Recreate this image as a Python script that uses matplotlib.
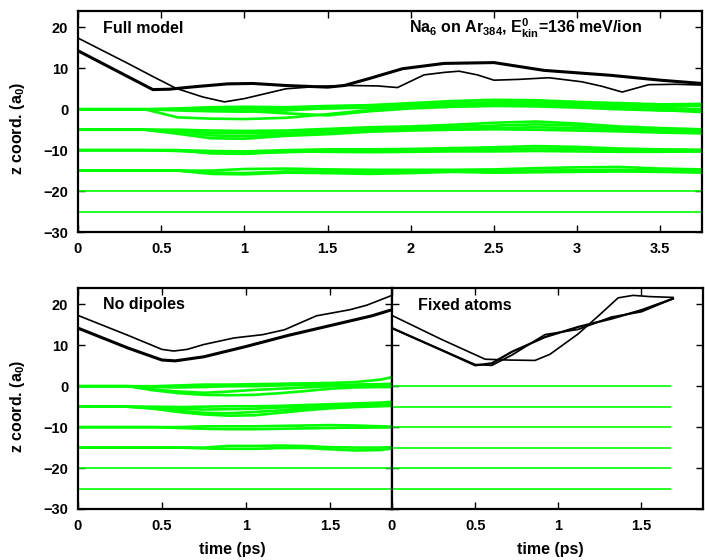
import matplotlib
matplotlib.use("Agg")
import matplotlib.pyplot as plt

plt.rcParams['font.family'] = ['Liberation Sans', 'DejaVu Sans']
plt.rcParams['font.weight'] = 'bold'
plt.rcParams['mathtext.fontset'] = 'custom'
plt.rcParams['mathtext.rm'] = 'Liberation Sans:bold'
plt.rcParams['mathtext.bf'] = 'Liberation Sans:bold'
plt.rcParams['mathtext.it'] = 'Liberation Sans:bold'
plt.rcParams['mathtext.default'] = 'bf'

NA_COLOR = 'black'
AR_COLOR = '#00ff00'
TICK_SIZE = 10.5
LABEL_SIZE = 11.5

# ---------------- Full model ----------------
# Na ions: apex ion (thin) and the ring ions (thick)
full_apex_t = [0, 0.3, 0.45, 0.59, 0.75, 0.88, 1.0, 1.25, 1.45, 1.63, 1.8, 1.92,
               2.08, 2.2, 2.29, 2.4, 2.5, 2.65, 2.83, 3.03, 3.15, 3.27, 3.43, 3.6, 3.75]
full_apex_z = [17.4, 11.2, 8.0, 5.1, 3.0, 1.8, 2.6, 5.0, 5.6, 5.8, 5.7, 5.3,
               8.4, 9.0, 9.3, 8.4, 7.1, 7.3, 7.7, 6.7, 5.6, 4.2, 6.0, 6.1, 5.9]
full_ring_t = [0, 0.45, 0.55, 0.7, 0.9, 1.05, 1.25, 1.5, 1.6, 1.75, 1.95, 2.2,
               2.5, 2.8, 3.2, 3.5, 3.75]
full_ring_z = [14.3, 4.8, 4.9, 5.5, 6.2, 6.3, 5.8, 5.4, 5.8, 7.5, 9.9, 11.2,
               11.4, 9.5, 8.3, 7.1, 6.3]

# Ar atoms, grouped by layer
full_ar_t = [0, 0.4, 0.6, 0.8, 1.0, 1.25, 1.5, 1.75, 2.0, 2.25, 2.5, 2.75,
             3.0, 3.25, 3.5, 3.75]
full_ar_layer0 = [
    [0, 0, 0.2, 0.5, 0.6, 0.5, 0.8, 1.0, 1.5, 2.0, 2.3, 2.2, 1.8, 1.5, 1.2, 1.3],
    [0, 0, 0, 0.2, 0.2, 0.0, 0.2, 0.5, 1.0, 1.5, 1.7, 1.7, 1.4, 1.0, 0.8, 0.8],
    [0, 0, -0.3, -0.5, -0.6, -0.3, 0.3, 0.3, 0.8, 1.2, 1.3, 1.2, 1.0, 0.6, 0.3, 0.0],
    [0, 0, -2.0, -2.3, -2.4, -2.1, -1.2, -0.2, 0.4, 0.8, 1.0, 1.0, 0.6, 0.2, -0.2, -0.7],
    [0, 0, -0.1, 0.0, -0.4, -1.0, -1.5, -0.5, 0.2, 0.6, 0.8, 0.7, 0.4, 0.0, -0.3, -0.3],
]
full_ar_layer1 = [
    [-5, -5, -5.0, -5.2, -5.3, -5.2, -4.8, -4.4, -4.2, -3.8, -3.3, -3.0, -3.5, -4.2, -4.6, -4.9],
    [-5, -5, -5.3, -5.8, -5.9, -5.8, -5.2, -4.8, -4.6, -4.3, -4.0, -3.7, -4.0, -4.5, -5.0, -5.2],
    [-5, -5, -5.6, -6.4, -6.6, -6.2, -5.8, -5.1, -5.0, -4.8, -4.6, -4.4, -4.6, -5.0, -5.4, -5.6],
    [-5, -5, -6.0, -7.1, -7.2, -6.5, -6.1, -5.5, -5.2, -5.0, -4.9, -5.0, -5.2, -5.4, -5.7, -5.9],
]
full_ar_layer2 = [
    [-10, -10, -10.0, -10.2, -10.3, -10.0, -9.8, -9.8, -9.7, -9.5, -9.3, -9.0, -9.2, -9.6, -9.8, -9.9],
    [-10, -10, -10.2, -10.6, -10.8, -10.5, -10.2, -10.2, -10.1, -10.0, -9.8, -9.6, -9.7, -10.0, -10.2, -10.3],
    [-10, -10, -10.0, -10.8, -10.9, -10.3, -10.4, -10.5, -10.4, -10.3, -10.3, -10.2, -10.3, -10.4, -10.4, -10.3],
]
full_ar_layer3 = [
    [-15, -15, -15, -15.0, -14.6, -14.5, -14.7, -14.8, -14.8, -14.8, -14.7, -14.4, -14.2, -14.1, -14.5, -14.7],
    [-15, -15, -15, -15.5, -15.6, -15.2, -15.2, -15.3, -15.2, -15.0, -15.1, -15.0, -14.9, -14.8, -15.0, -15.2],
    [-15, -15, -15, -15.8, -15.9, -15.5, -15.6, -15.8, -15.6, -15.3, -15.5, -15.4, -15.3, -15.2, -15.3, -15.5],
]
full_ar_deep = [-20, -25]

# ---------------- No dipoles ----------------
nodip_apex_t = [0, 0.3, 0.5, 0.57, 0.65, 0.75, 0.93, 1.1, 1.23, 1.42, 1.62, 1.72, 1.87]
nodip_apex_z = [17.3, 12.4, 9.0, 8.6, 9.0, 10.2, 11.8, 12.6, 13.8, 17.2, 18.7, 19.8, 22.2]
nodip_ring_t = [0, 0.3, 0.5, 0.58, 0.75, 1.0, 1.25, 1.5, 1.75, 1.87]
nodip_ring_z = [14.2, 9.3, 6.4, 6.2, 7.2, 9.7, 12.4, 14.8, 17.2, 18.7]

nodip_ar_t = [0, 0.3, 0.45, 0.6, 0.75, 0.9, 1.05, 1.2, 1.35, 1.5, 1.65, 1.8, 1.87]
nodip_ar_layer0 = [
    [0, 0, 0, 0.2, 0.4, 0.4, 0.5, 0.6, 0.7, 0.8, 1.0, 1.6, 2.2],
    [0, 0, -0.2, -0.3, -0.2, 0.0, 0.0, 0.2, 0.3, 0.3, 0.4, 0.5, 0.6],
    [0, 0, -0.8, -1.3, -1.6, -1.3, -0.9, -0.6, -0.3, 0.0, 0.0, 0.1, 0.1],
    [0, 0, -1.0, -1.7, -2.1, -2.2, -2.1, -1.7, -1.2, -0.6, -0.3, -0.2, -0.2],
]
nodip_ar_layer1 = [
    [-5, -5, -5, -5.1, -5.0, -4.9, -4.9, -4.8, -4.6, -4.4, -4.2, -4.0, -3.8],
    [-5, -5, -5.2, -5.5, -5.7, -5.6, -5.5, -5.2, -5.0, -4.8, -4.6, -4.5, -4.4],
    [-5, -5, -5.4, -6.0, -6.5, -6.6, -6.3, -5.9, -5.4, -5.0, -4.8, -4.7, -4.7],
    [-5, -5, -5.5, -6.3, -6.9, -7.2, -7.1, -6.5, -5.9, -5.4, -5.1, -4.9, -4.8],
]
nodip_ar_layer2 = [
    [-10, -10, -10, -10, -9.8, -9.8, -9.8, -9.7, -9.6, -9.5, -9.6, -9.8, -9.9],
    [-10, -10, -10, -10.2, -10.4, -10.5, -10.5, -10.4, -10.3, -10.2, -10.1, -10.1, -10.0],
]
nodip_ar_layer3 = [
    [-15, -15, -15, -15, -15, -14.6, -14.6, -14.5, -14.6, -14.9, -15.0, -15.0, -14.9],
    [-15, -15, -15, -15, -15.2, -15.3, -15.3, -15.1, -15.1, -15.4, -15.7, -15.6, -15.2],
]
nodip_ar_deep = [-20, -25]

# ---------------- Fixed atoms ----------------
fixed_apex_t = [0, 0.3, 0.56, 0.7, 0.86, 0.95, 1.12, 1.25, 1.36, 1.45, 1.55, 1.69]
fixed_apex_z = [17.3, 11.4, 6.6, 6.4, 6.3, 7.8, 12.8, 17.5, 21.6, 22.2, 21.9, 21.7]
fixed_ring_t = [0, 0.3, 0.5, 0.6, 0.72, 0.92, 1.12, 1.32, 1.5, 1.69]
fixed_ring_a = [14.2, 8.8, 5.1, 5.6, 8.4, 12.0, 14.5, 16.5, 18.6, 21.4]
fixed_ring_b = [14.2, 8.8, 5.3, 5.1, 7.6, 12.6, 13.9, 16.9, 18.2, 21.4]
fixed_ar_t_end = 1.67
fixed_ar_layers = [0, -5, -10, -15, -20, -25]


def style_axes(ax, xmax, xticks, xticklabels, show_ylabels=True):
    ax.set_xlim(0, xmax)
    ax.set_ylim(-30, 24)
    ax.set_xticks(xticks)
    ax.set_xticklabels(xticklabels)
    ax.set_yticks([-30, -20, -10, 0, 10, 20])
    if not show_ylabels:
        ax.set_yticklabels([])
    ax.tick_params(direction='in', length=5, width=1, top=True, right=True,
                   labelsize=TICK_SIZE, pad=7)
    for label in ax.get_xticklabels() + ax.get_yticklabels():
        label.set_fontweight('bold')
    for spine in ax.spines.values():
        spine.set_linewidth(1.6)


def draw_layers(ax, t, layers, deep):
    # wandering atoms get a heavier stroke so the layer reads as a band
    for layer in layers:
        for z in layer:
            ax.plot(t, z, color=AR_COLOR, lw=1.9, solid_capstyle='butt')
    for z in deep:
        ax.plot([t[0], t[-1]], [z, z], color=AR_COLOR, lw=1.2)


def main():
    fig = plt.figure(figsize=(7.05, 5.6), dpi=100)

    # Full model
    ax = fig.add_axes([0.1106, 0.5857, 0.8851, 0.3946])
    draw_layers(ax, full_ar_t,
                [full_ar_layer0, full_ar_layer1, full_ar_layer2, full_ar_layer3],
                full_ar_deep)
    ax.plot(full_apex_t, full_apex_z, color=NA_COLOR, lw=1.2)
    ax.plot(full_ring_t, full_ring_z, color=NA_COLOR, lw=2.2)
    style_axes(ax, 3.75, [0, 0.5, 1, 1.5, 2, 2.5, 3, 3.5],
               ['0', '0.5', '1', '1.5', '2', '2.5', '3', '3.5'])
    ax.text(0.04, 0.899, 'Full model', transform=ax.transAxes,
            fontsize=LABEL_SIZE, fontweight='bold', va='baseline')
    ax.text(0.53, 0.899, r'Na$_6$ on Ar$_{384}$, E$^0_{kin}$=136 meV/ion',
            transform=ax.transAxes, fontsize=LABEL_SIZE, fontweight='bold',
            va='baseline')

    # No dipoles
    ax = fig.add_axes([0.1106, 0.0911, 0.4454, 0.3946])
    draw_layers(ax, nodip_ar_t,
                [nodip_ar_layer0, nodip_ar_layer1, nodip_ar_layer2, nodip_ar_layer3],
                nodip_ar_deep)
    ax.plot(nodip_apex_t, nodip_apex_z, color=NA_COLOR, lw=1.2)
    ax.plot(nodip_ring_t, nodip_ring_z, color=NA_COLOR, lw=2.2)
    style_axes(ax, 1.87, [0, 0.5, 1, 1.5], ['0', '0.5', '1', '1.5'])
    ax.text(0.08, 0.904, 'No dipoles', transform=ax.transAxes,
            fontsize=LABEL_SIZE, fontweight='bold', va='baseline')

    # Fixed atoms
    ax = fig.add_axes([0.5560, 0.0911, 0.4411, 0.3946])
    for z in fixed_ar_layers:
        ax.plot([0, fixed_ar_t_end], [z, z], color=AR_COLOR, lw=1.2)
    ax.plot(fixed_apex_t, fixed_apex_z, color=NA_COLOR, lw=1.2)
    ax.plot(fixed_ring_t, fixed_ring_a, color=NA_COLOR, lw=1.6)
    ax.plot(fixed_ring_t, fixed_ring_b, color=NA_COLOR, lw=1.3)
    style_axes(ax, 1.87, [0, 0.5, 1, 1.5], ['0', '0.5', '1', '1.5'],
               show_ylabels=False)
    ax.text(0.084, 0.90, 'Fixed atoms', transform=ax.transAxes,
            fontsize=LABEL_SIZE, fontweight='bold', va='baseline')

    # shared axis titles
    for yc in (0.771, 0.275):
        fig.text(0.0255, yc, r'z coord. (a$_0$)', rotation=90, ha='center',
                 va='center', fontsize=LABEL_SIZE, fontweight='bold')
    for xc in (0.33, 0.78):
        fig.text(xc, 0.0196, 'time (ps)', ha='center', va='center',
                 fontsize=LABEL_SIZE, fontweight='bold')

    fig.savefig('out.png', dpi=100)


if __name__ == '__main__':
    main()
